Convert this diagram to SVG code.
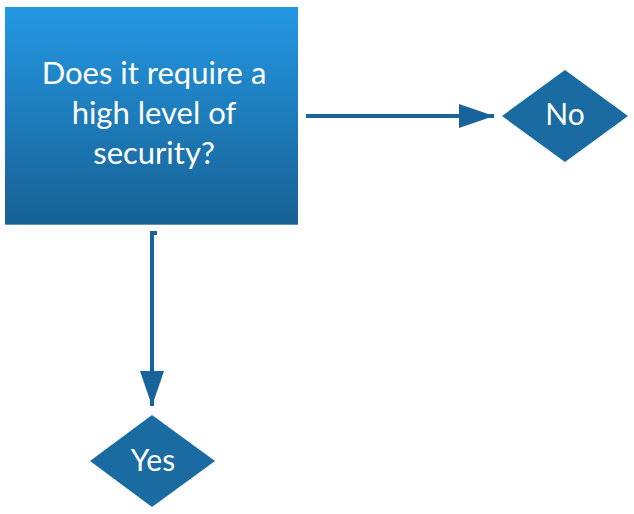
<svg xmlns="http://www.w3.org/2000/svg" width="634" height="514" viewBox="0 0 634 514">
<defs>
<linearGradient id="g" x1="0" y1="0" x2="0" y2="1">
<stop offset="0" stop-color="#2497e3"/>
<stop offset="1" stop-color="#176193"/>
</linearGradient>
<marker id="ah" markerUnits="userSpaceOnUse" markerWidth="36" markerHeight="24" refX="35" refY="12" orient="auto">
<path d="M0,0 L35,12 L0,24 Z" fill="#17639a"/>
</marker>
<style>
.t{font-family:Lato,"Liberation Sans",sans-serif;fill:#fff;text-anchor:middle}
.c{stroke:#17639a;stroke-width:4;fill:none}
.d{fill:#196ba2}
</style>
</defs>
<rect width="634" height="514" fill="#fff"/>
<g id="question">
<rect x="5" y="7" width="293" height="218" fill="url(#g)"/>
<line x1="5" y1="224.5" x2="298" y2="224.5" stroke="#5d94bb" stroke-width="1"/>
<text class="t" font-size="31"><tspan x="154" y="84">Does it require a</tspan><tspan x="154" y="124">high level of</tspan><tspan x="154" y="164">security?</tspan></text>
</g>
<g id="connectors">
<path class="c" d="M306,116 L494,116" marker-end="url(#ah)"/>
<path class="c" d="M157,233 L152,233 L152,406" marker-end="url(#ah)"/>
</g>
<g id="no">
<polygon class="d" points="502,116 565,70 628,116 565,162"/>
<text class="t" x="565" y="125" font-size="30">No</text>
</g>
<g id="yes">
<polygon class="d" points="90,461 152,415 215,461 152,507"/>
<text class="t" x="153" y="471" font-size="30">Yes</text>
</g>
</svg>
